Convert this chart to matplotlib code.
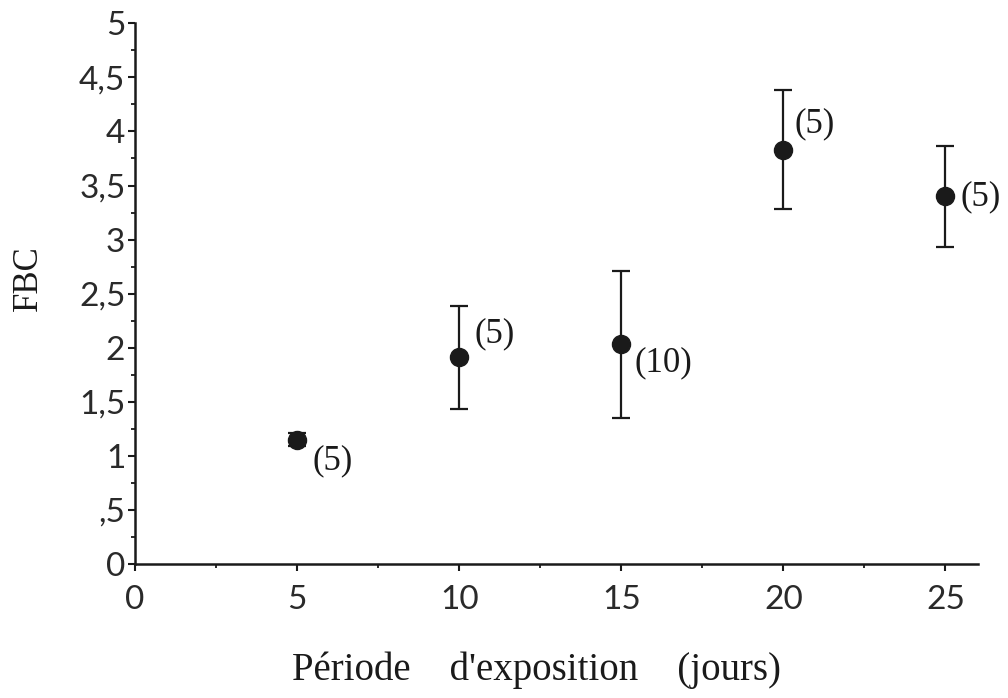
import matplotlib
matplotlib.use("Agg")
import matplotlib.pyplot as plt
from matplotlib.ticker import MultipleLocator

# Data
days = [5, 10, 15, 20, 25]
fbc = [1.15, 1.91, 2.03, 3.83, 3.40]
err = [0.06, 0.48, 0.68, 0.55, 0.465]
n_labels = ["(5)", "(5)", "(10)", "(5)", "(5)"]
# label offsets (pixels) relative to each point
label_dx = [15, 15, 13, 11, 15]
label_dy = [-21, 24, -18, 26, 0]

y_ticks = [0, 0.5, 1, 1.5, 2, 2.5, 3, 3.5, 4, 4.5, 5]
y_ticklabels = ["0", ",5", "1", "1,5", "2", "2,5", "3", "3,5", "4", "4,5", "5"]
x_ticks = [0, 5, 10, 15, 20, 25]
x_ticklabels = ["0", "5", "10", "15", "20", "25"]

W, H = 1008, 698
fig = plt.figure(figsize=(W / 100, H / 100), dpi=100)
ax = fig.add_axes([0.134, 0.192, 0.836, 0.7746])

ax.errorbar(days, fbc, yerr=err, fmt="o", color="#1a1a1a", ecolor="#1a1a1a",
            markersize=13, elinewidth=1.6, capsize=6.5, capthick=1.6)

for x, y, t, dx, dy in zip(days, fbc, n_labels, label_dx, label_dy):
    ax.annotate(t, (x, y), xytext=(dx, dy), textcoords="offset pixels",
                ha="left", va="center", fontsize=25,
                family="Liberation Serif", color="#1a1a1a")

ax.set_xlim(0, 26)
ax.set_ylim(0, 5)
ax.spines["top"].set_visible(False)
ax.spines["right"].set_visible(False)
for s in ("left", "bottom"):
    ax.spines[s].set_linewidth(1.8)
    ax.spines[s].set_color("#1a1a1a")

ax.set_yticks(y_ticks)
ax.set_yticklabels(y_ticklabels)
ax.set_xticks(x_ticks)
ax.set_xticklabels(x_ticklabels)
ax.yaxis.set_minor_locator(MultipleLocator(0.25))
ax.xaxis.set_minor_locator(MultipleLocator(2.5))
ax.tick_params(axis="both", which="major", direction="out", length=5, width=1.5,
               color="#1a1a1a", labelcolor="#2a2a2a")
ax.tick_params(axis="both", which="minor", direction="out", length=3, width=1.3,
               color="#1a1a1a")
ax.tick_params(axis="y", which="major", pad=2)
ax.tick_params(axis="x", which="major", pad=10)
for lab in ax.get_xticklabels() + ax.get_yticklabels():
    lab.set_family("Lato")
    lab.set_fontweight("normal")
    lab.set_fontsize(24)

fig.text(537 / W, 1 - 680 / H, "Période    d'exposition    (jours)",
         family="Liberation Serif", fontsize=28, color="#1a1a1a",
         ha="center", va="baseline")
fig.text(28 / W, 1 - 278 / H, "FBC", family="Liberation Serif", fontsize=25,
         color="#1a1a1a", rotation=90, ha="center", va="center")

fig.savefig("out.png", dpi=100)
